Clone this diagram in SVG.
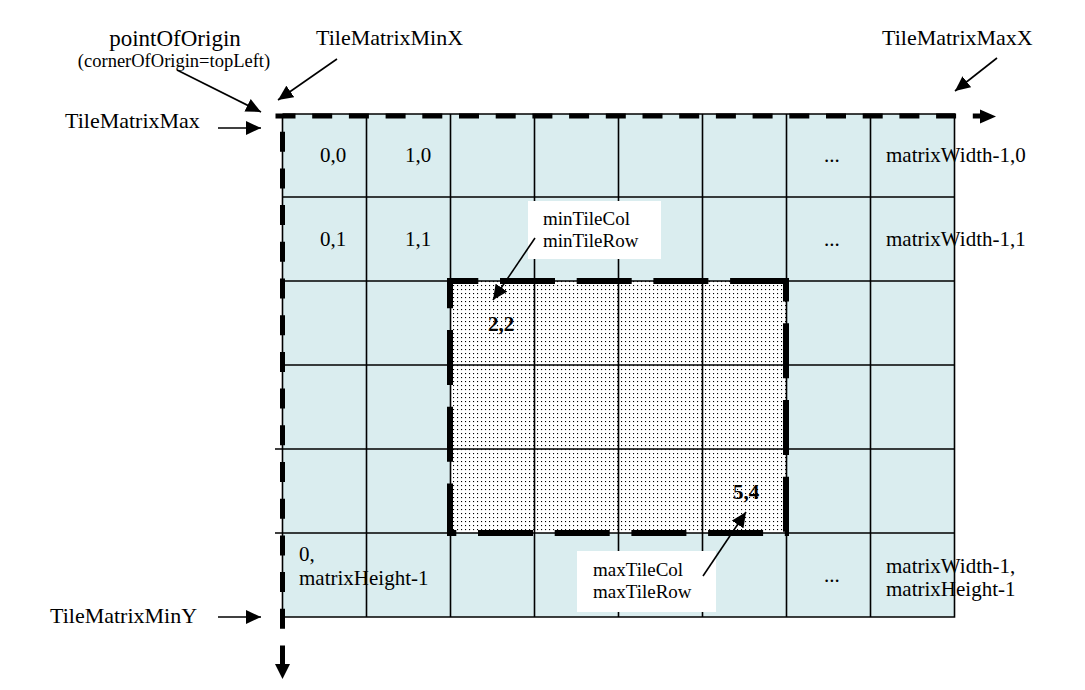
<svg xmlns="http://www.w3.org/2000/svg" width="1085" height="690" viewBox="0 0 1085 690">
<defs>
<style>
text{font-family:"Liberation Serif","Times New Roman",serif;fill:#000}
.lbl{font-size:22px}
.cell{font-size:21px}
.small{font-size:18.5px}
.box{font-size:19px}
.bold{font-size:21px;font-weight:bold}
.grid{stroke:#000;stroke-width:1.6;fill:none}
.axis{stroke:#000;stroke-width:5;fill:none;stroke-dasharray:20 16.7}
.sel{stroke:#000;stroke-width:6;fill:none;stroke-dasharray:55 21.7}
.ptr{stroke:#000;stroke-width:1.6;fill:none;marker-end:url(#ah)}
</style>
<marker id="ah" markerUnits="userSpaceOnUse" markerWidth="16" markerHeight="14" refX="15" refY="7" orient="auto">
<path d="M0,0 L15,7 L0,14 z" fill="#000"/>
</marker>
<pattern id="dots" width="4" height="4" patternUnits="userSpaceOnUse">
<rect width="4" height="4" fill="#fff"/>
<rect x="1" y="1" width="1.1" height="1.1" fill="#000"/>
</pattern>
</defs>

<g id="grid">
<rect x="282.5" y="114" width="672" height="503" fill="#DAEDEF"/>
<rect x="450" y="281" width="336" height="252" fill="url(#dots)"/>
<path class="grid" d="M282.5,114 H954.5 V617 H285 M282.5,114 V617
M366.5,114 V617 M450.5,114 V617 M534.5,114 V617 M618.5,114 V617 M702.5,114 V617 M786.5,114 V617 M870.5,114 V617
M282.5,197 H954.5 M282.5,281 H954.5 M282.5,365 H954.5 M275,449 H954.5 M275,533 H954.5"/>
</g>

<g id="axes">
<line class="axis" x1="275.5" y1="116" x2="982" y2="116"/>
<polygon points="980,109.5 996,116.5 980,123.5" fill="#000"/>
<line class="axis" x1="282.5" y1="131.7" x2="282.5" y2="666"/>
<polygon points="275,664 290,664 282.5,679" fill="#000"/>
</g>

<g id="selection">
<line class="sel" x1="447" y1="281" x2="789" y2="281" stroke-dashoffset="23.7"/>
<line class="sel" x1="786" y1="278" x2="786" y2="536" stroke-dashoffset="31.4"/>
<line class="sel" x1="447" y1="533" x2="789" y2="533" stroke-dashoffset="45.7"/>
<line class="sel" x1="450" y1="278" x2="450" y2="536" stroke-dashoffset="24.7"/>
</g>

<g id="cell-labels">
<text class="cell" x="320" y="162">0,0</text>
<text class="cell" x="405" y="162">1,0</text>
<text class="cell" x="824" y="162">...</text>
<text class="cell" x="886" y="162">matrixWidth-1,0</text>
<text class="cell" x="320" y="246">0,1</text>
<text class="cell" x="405" y="246">1,1</text>
<text class="cell" x="824" y="246">...</text>
<text class="cell" x="886" y="246">matrixWidth-1,1</text>
<text class="cell" x="299" y="561">0,</text>
<text class="cell" x="299" y="585">matrixHeight-1</text>
<text class="cell" x="824" y="582">...</text>
<text class="cell" x="886" y="573">matrixWidth-1,</text>
<text class="cell" x="886" y="596">matrixHeight-1</text>
<text class="bold" x="488" y="331">2,2</text>
<text class="bold" x="733" y="499">5,4</text>
</g>

<g id="pointOfOrigin">
<text class="lbl" x="175" y="46" text-anchor="middle" style="font-size:23px">pointOfOrigin</text>
<text class="small" x="174" y="67" text-anchor="middle">(cornerOfOrigin=topLeft)</text>
</g>
<g id="TileMatrixMinX"><text class="lbl" x="316" y="45">TileMatrixMinX</text></g>
<g id="TileMatrixMaxX"><text class="lbl" x="882" y="45">TileMatrixMaxX</text></g>
<g id="TileMatrixMax"><text class="lbl" x="65" y="128">TileMatrixMax</text></g>
<g id="TileMatrixMinY"><text class="lbl" x="50" y="623">TileMatrixMinY</text></g>

<g id="minTile">
<rect x="528" y="201" width="133" height="58" fill="#fff"/>
<text class="box" x="543" y="225">minTileCol</text>
<text class="box" x="543" y="247">minTileRow</text>
</g>
<g id="maxTile">
<rect x="577" y="551" width="139" height="61" fill="#fff"/>
<text class="box" x="593" y="576">maxTileCol</text>
<text class="box" x="593" y="598">maxTileRow</text>
</g>

<g id="connectors">
<line class="ptr" x1="177" y1="70" x2="261" y2="112"/>
<line class="ptr" x1="337" y1="59" x2="278" y2="100"/>
<line class="ptr" x1="997" y1="58" x2="955" y2="91"/>
<line class="ptr" x1="218" y1="128" x2="261" y2="128"/>
<line class="ptr" x1="218" y1="617" x2="261" y2="617"/>
<line class="ptr" x1="535" y1="238" x2="493" y2="300"/>
<line class="ptr" x1="703" y1="576" x2="746" y2="512"/>
</g>
</svg>
